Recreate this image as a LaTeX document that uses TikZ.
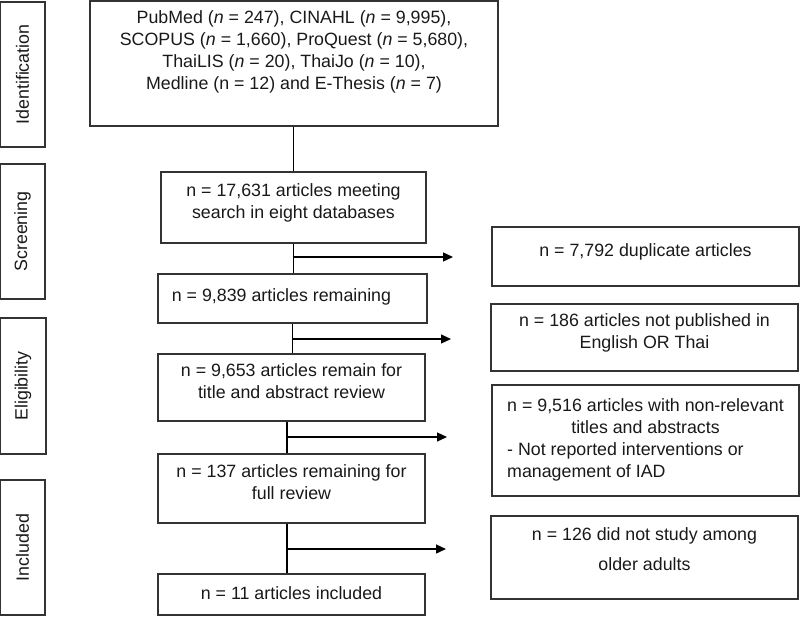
\documentclass[tikz,border=0pt]{standalone}
\usepackage{fontspec}
\setmainfont{Liberation Sans}
\usetikzlibrary{arrows.meta}
\begin{document}
\begin{tikzpicture}[x=1pt,y=-1pt,
  every node/.style={font=\fontsize{17.8}{22}\selectfont, text=black!90},
  boxx/.style={draw=black!80, line width=1.3pt, inner sep=0pt, align=center},
  stage/.style={draw=black!80, line width=1.3pt, inner sep=0pt, minimum width=45pt, rotate=90},
  conn/.style={draw=black, line width=1.3pt},
  arr/.style={conn, -{Triangle[length=10pt,width=9pt]}}]
\useasboundingbox (0,0) rectangle (800,616);
% stage labels
\node[stage, minimum height=45pt, minimum width=145pt] (sid) at (22.5,74.5) {Identification};
\node[stage, minimum height=45pt, minimum width=135pt] (ssc) at (22.5,231.5) {Screening};
\node[stage, minimum height=46pt, minimum width=136pt] (sel) at (23,386) {Eligibility};
\node[stage, minimum height=45pt, minimum width=135pt] (sin) at (22.5,547.5) {Included};
% main boxes
\node[boxx, minimum width=408pt, minimum height=125pt] (top) at (294,63.5)
  {PubMed (\textit{n} = 247), CINAHL (\textit{n} = 9,995),\\
   SCOPUS (\textit{n} = 1,660), ProQuest (\textit{n} = 5,680),\\
   ThaiLIS (\textit{n} = 20), ThaiJo (\textit{n} = 10),\\
   Medline (n = 12) and E-Thesis (\textit{n} = 7)\\[5pt]\mbox{}};
\node[boxx, minimum width=265pt, minimum height=71pt] (b2) at (293.5,207.5)
  {n = 17,631 articles meeting\\ search in eight databases\\[-10pt]\mbox{}};
\node[boxx, minimum width=269pt, minimum height=49pt] (b3) at (292.5,298.5)
  {\raisebox{6pt}{n = 9,839 articles remaining\hspace{22pt}}};
\node[boxx, minimum width=267pt, minimum height=67pt] (b4) at (291.5,387.5)
  {n = 9,653 articles remain for\\ title and abstract review\\[-10pt]\mbox{}};
\node[boxx, minimum width=267pt, minimum height=69pt] (b5) at (291.5,488.5)
  {n = 137 articles remaining for\\ full review\\[-10pt]\mbox{}};
\node[boxx, minimum width=267pt, minimum height=41pt] (b6) at (291.5,594.5)
  {\raisebox{3pt}{n = 11 articles included}};
% exclusion boxes
\node[boxx, minimum width=307pt, minimum height=59pt] (r1) at (645.5,256.5)
  {\raisebox{12pt}{n = 7,792 duplicate articles}};
\node[boxx, minimum width=307pt, minimum height=67pt] (r2) at (644.5,337.5)
  {n = 186 articles not published in\\ English OR Thai\\[-10pt]\mbox{}};
\node[boxx, minimum width=307pt, minimum height=111pt] (r3) at (645.5,440.5)
  {\raisebox{5pt}{\begin{tabular}{@{}l@{}}
   \multicolumn{1}{@{}c@{}}{n = 9,516 articles with non-relevant}\\
   \multicolumn{1}{@{}c@{}}{titles and abstracts}\\
   - Not reported interventions or\\
   management of IAD
   \end{tabular}}};
\node[boxx, minimum width=307pt, minimum height=83pt] (r4) at (644.5,557.5)
  {n = 126 did not study among\\[8pt] older adults\\[-6pt]\mbox{}};
% free ends of arrows
\coordinate (e1) at (453,257);
\coordinate (e2) at (451,339);
\coordinate (e3) at (447,437);
\coordinate (e4) at (446,549);
% connectors
\draw[conn] (top.south -| b2.north) -- (b2.north);
\draw[conn] (b2.south) -- (b2.south |- b3.north);
\draw[arr] (b2.south |- e1) -- (e1);
\draw[conn] (b3.south) -- (b3.south |- b4.north);
\draw[arr] (b3.south |- e2) -- (e2);
\draw[conn] ([xshift=-4.5pt]b4.south) -- ([xshift=-4.5pt]b4.south |- b5.north);
\draw[arr] ([xshift=-4.5pt]b4.south |- e3) -- (e3);
\draw[conn] ([xshift=-4.5pt]b5.south) -- ([xshift=-4.5pt]b5.south |- b6.north);
\draw[arr] ([xshift=-4.5pt]b5.south |- e4) -- (e4);
\end{tikzpicture}
\end{document}
